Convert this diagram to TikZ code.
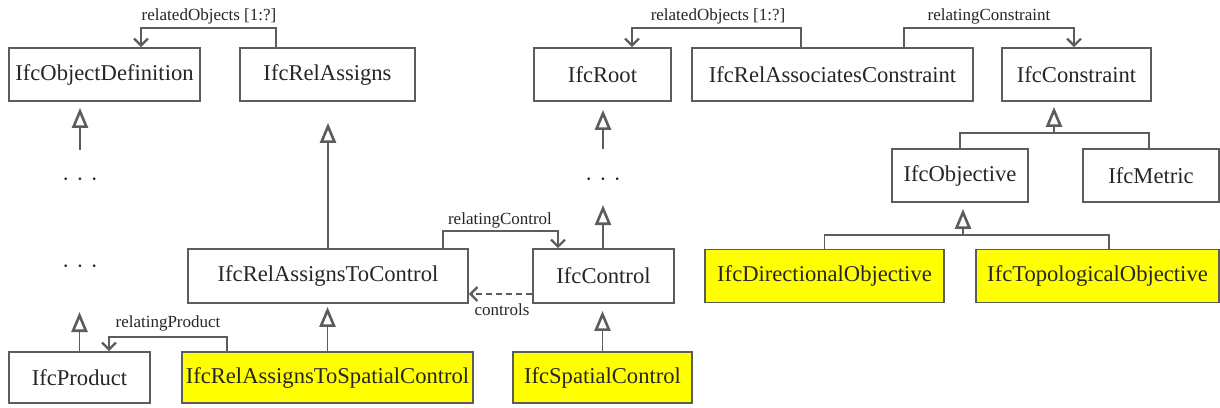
\documentclass[tikz,border=0pt]{standalone}
\usepackage{fontspec}
\setmainfont{Liberation Serif}
\usetikzlibrary{arrows.meta,calc}
\definecolor{linegray}{HTML}{5C5C5C}
\definecolor{textgray}{HTML}{262626}
\definecolor{ifcyellow}{HTML}{FFFF00}
\begin{document}
\begin{tikzpicture}[x=0.5pt,y=-0.5pt,
  cls/.style={draw=linegray, line width=0.9pt, fill=white, text=textgray,
    font=\fontsize{11.3}{13}\selectfont, inner sep=0pt, minimum height=26.5pt},
  hl/.style={cls, fill=ifcyellow},
  role/.style={text=textgray, font=\fontsize{8.5}{10}\selectfont, inner sep=0pt},
  ellip/.style={text=textgray, font=\fontsize{11}{13}\selectfont, inner sep=0pt},
  conn/.style={draw=linegray, line width=0.9pt},
  gen/.style={conn, -{Triangle[open,length=10pt,width=8pt,line width=1.3pt]}},
  assoc/.style={conn, -{Straight Barb[length=3.5pt,width=7pt,line width=1.1pt]}},
  dep/.style={conn, dash pattern=on 3pt off 2pt, -{Straight Barb[length=3.5pt,width=7pt,line width=1.1pt]}}
]
\useasboundingbox[fill=white] (0,0) rectangle (1220,407);

% ---- classes, top row
\node[cls, minimum width=95.5pt]  (objdef)     at (104.5,74.5) {IfcObjectDefinition};
\node[cls, minimum width=87.5pt]  (relassigns) at (327.5,74.5) {IfcRelAssigns};
\node[cls, minimum width=68.5pt]  (root)       at (602.5,74.5) {IfcRoot};
\node[cls, minimum width=140.5pt] (relassoc)   at (832.5,74.5) {IfcRelAssociatesConstraint};
\node[cls, minimum width=74.5pt]  (constraint) at (1076.5,74.5) {IfcConstraint};

% ---- second row
\node[cls, minimum width=68pt] (objective) at (960,175.5) {IfcObjective};
\node[cls, minimum width=68pt] (metric)    at (1151,175.5) {IfcMetric};

% ---- third row
\node[cls, minimum width=140pt,  minimum height=27pt] (reltocontrol) at (328,276) {IfcRelAssignsToControl};
\node[cls, minimum width=70.5pt, minimum height=27pt] (control)      at (603.5,276) {IfcControl};
\node[hl,  minimum width=119.5pt]  (directional) at (824.5,276) {IfcDirectionalObjective};
\node[hl,  minimum width=121.5pt]  (topological) at (1097.5,276) {IfcTopologicalObjective};

% ---- bottom row
\node[cls, minimum width=70.5pt,  minimum height=25.5pt] (product)        at (79.5,377.5) {IfcProduct};
\node[hl,  minimum width=145.5pt, minimum height=25.5pt] (reltospatial)   at (327.5,377.5) {IfcRelAssignsToSpatialControl};
\node[hl,  minimum width=89.5pt,  minimum height=25.5pt] (spatialcontrol) at (602.5,377.5) {IfcSpatialControl};

% ---- elided parts of the hierarchy
\node[ellip] (dots1) at (80,182) {·\hspace{3.5pt}·\hspace{3.5pt}·};
\node[ellip] (dots2) at (80,269) {·\hspace{3.5pt}·\hspace{3.5pt}·};
\node[ellip] (dots3) at (603,182) {·\hspace{3.5pt}·\hspace{3.5pt}·};

% ---- generalisations
\draw[gen, shorten >=3pt] ($(dots1.center)+(0,-32)$) -- (dots1.center |- objdef.south);
\draw[gen, shorten >=21.5pt] (product.north) -- (product.north |- dots2.center);
\draw[gen, shorten >=10.5pt] (reltocontrol.north) -- (reltocontrol.north |- relassigns.south);
\draw[gen, shorten >=1.5pt] (reltospatial.north) -- (reltospatial.north |- reltocontrol.south);
\draw[gen, shorten >=4pt] ($(dots3.center)+(0,-33)$) -- (dots3.center |- root.south);
\draw[gen, shorten >=11.5pt] (control.north -| dots3.center) -- (dots3.center);
\draw[gen, shorten >=3.5pt] (spatialcontrol.north) -- (spatialcontrol.north |- control.south);

% constraint subtypes
\coordinate (cjoin) at (1054,133);
\draw[conn] (objective.north) |- (cjoin);
\draw[conn] ($(metric.north)+(-2,0)$) |- (cjoin);
\draw[gen, shorten >=2.5pt] (cjoin) -- (cjoin |- constraint.south);

% objective subtypes
\coordinate (ojoin) at (963,235);
\draw[conn] (directional.north) |- (ojoin);
\draw[conn] ($(topological.north)+(11.5,0)$) |- (ojoin);
\draw[gen, shorten >=3pt] (ojoin) -- (ojoin |- objective.south);

% ---- associations
\coordinate (ra1) at ($(relassigns.north)+(-51.5,0)$);
\coordinate (ra2) at ($(objdef.north)+(36.5,0)$);
\draw[assoc] (ra1) -- ++(0,-19) -| (ra2);
\node[role] (lrelobj1) at (209,16) {relatedObjects [1:?]};

\coordinate (rc1) at ($(relassoc.north)+(-31.5,0)$);
\coordinate (rc2) at ($(root.north)+(29.5,0)$);
\draw[assoc] (rc1) -- ++(0,-19) -| (rc2);
\node[role] (lrelobj2) at (718,16) {relatedObjects [1:?]};

\coordinate (rc3) at ($(relassoc.north)+(71.5,0)$);
\coordinate (rc4) at ($(constraint.north)+(-2.5,0)$);
\draw[assoc] (rc3) -- ++(0,-19) -| (rc4);
\node[role] (lrelcon) at (989,16) {relatingConstraint};

\coordinate (rt1) at ($(reltocontrol.north)+(115,0)$);
\coordinate (rt2) at ($(control.north)+(-45.5,0)$);
\draw[assoc] (rt1) -- ++(0,-17) -| (rt2);
\node[role] (lrelctl) at (500,220) {relatingControl};

\coordinate (rp1) at ($(reltospatial.north)+(-100.5,0)$);
\coordinate (rp2) at ($(product.north)+(29.5,0)$);
\draw[assoc] (rp1) -- ++(0,-14) -| (rp2);
\node[role] (lrelprod) at (168,323) {relatingProduct};

% ---- dependency
\draw[dep] ($(control.west)+(0,18)$) -- ($(reltocontrol.east)+(0,18)$);
\node[role] (lctl) at (502,310) {controls};

\end{tikzpicture}
\end{document}
